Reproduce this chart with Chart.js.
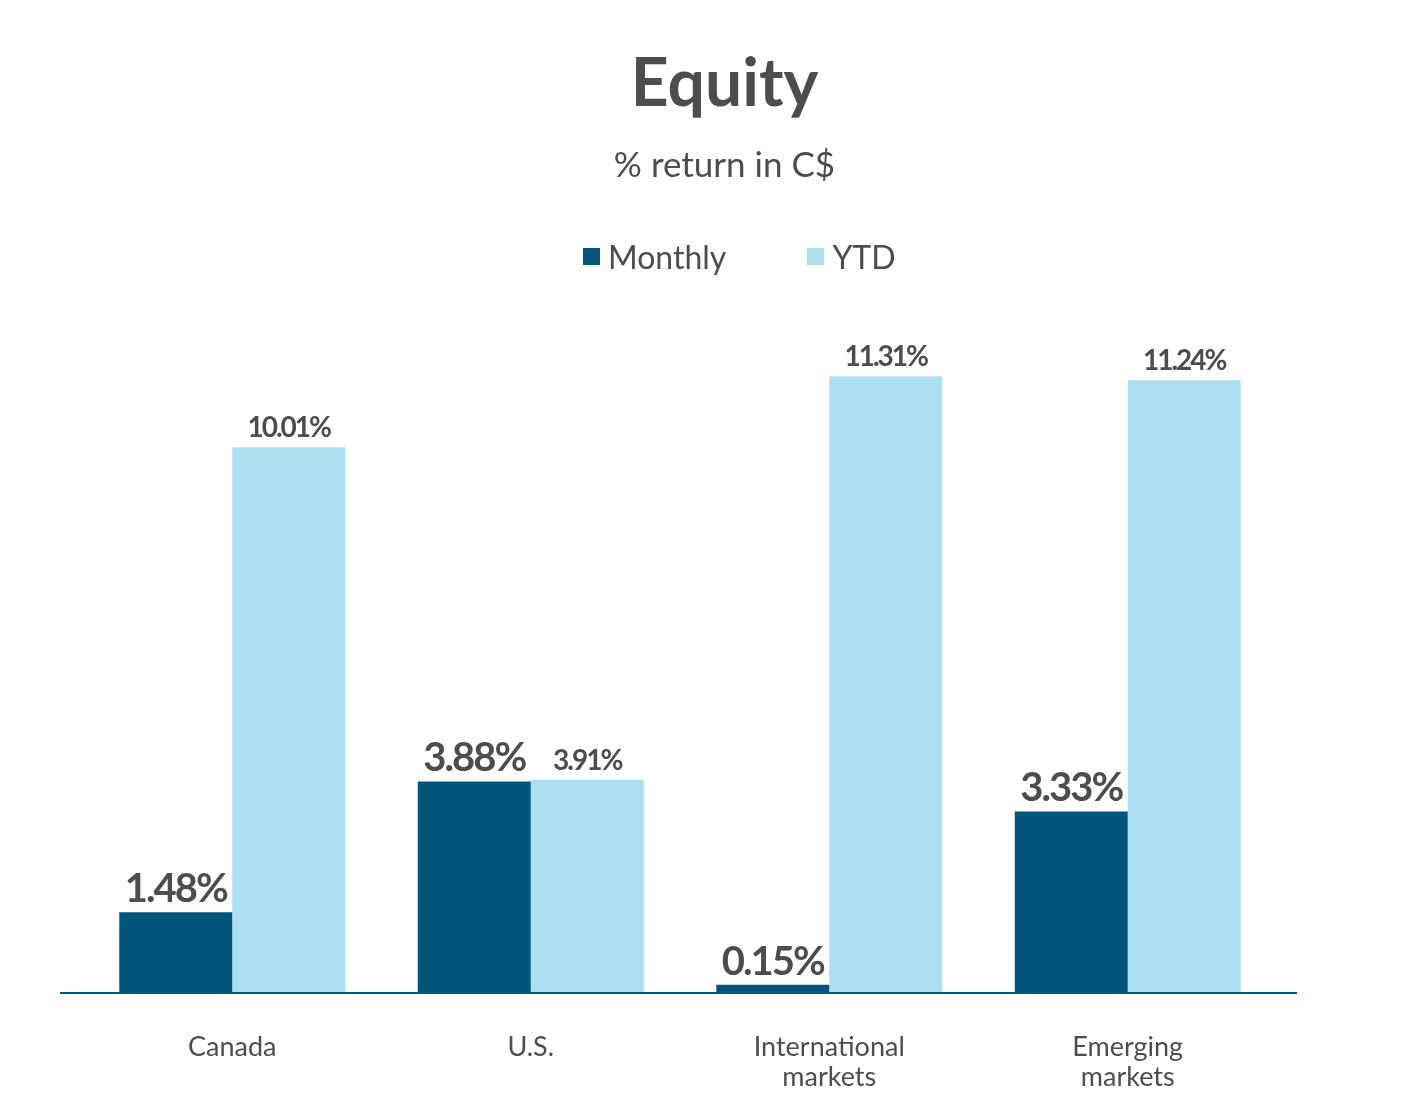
<!DOCTYPE html>
<html>
<head>
<meta charset="utf-8">
<title>Equity</title>
<script src="https://cdn.jsdelivr.net/npm/chart.js@4.4.1/dist/chart.umd.min.js"></script>
<style>
  body { margin: 0; background: #fff; }
  #wrap { position: relative; width: 1406px; height: 1120px; }
  #legend {
    position: absolute; top: 236px; left: 583px; height: 40px;
    display: flex; align-items: center;
    font-family: Lato, "Open Sans", sans-serif; font-size: 32px; color: #4d4d4a;
  }
  #legend .item { display: flex; align-items: center; margin-right: 81px; }
  #legend .box { width: 17px; height: 17px; margin-right: 8px; }
</style>
</head>
<body>
<div id="wrap">
  <canvas id="chart-equity"></canvas>
  <div id="legend"></div>
</div>
<script>
const categories = [
    ['Canada'],
    ['U.S.'],
    ['International', 'markets'],
    ['Emerging', 'markets'],
];

const monthly = [1.48, 3.88, 0.15, 3.33];
const ytd = [10.01, 3.91, 11.31, 11.24];

const textColor = '#4d4d4a';
const darkBlue = '#02567c';
const lightBlue = '#ace0f1';

// value labels above each bar
const barLabels = {
    id: 'barLabels',
    afterDatasetsDraw(chart) {
        const ctx = chart.ctx;
        ctx.save();
        ctx.fillStyle = textColor;
        ctx.textAlign = 'center';
        ctx.textBaseline = 'alphabetic';
        chart.data.datasets.forEach((ds, i) => {
            const meta = chart.getDatasetMeta(i);
            ctx.font = i === 0 ? 'bold 40px Lato' : 'bold 28px Lato';
            ctx.letterSpacing = '-2px';
            meta.data.forEach((bar, j) => {
                ctx.fillText(ds.data[j].toFixed(2) + '%', bar.x, bar.y - 10);
            });
        });
        ctx.restore();
    }
};

// baseline a bit wider than the plot area
const baseLine = {
    id: 'baseLine',
    afterDatasetsDraw(chart) {
        const ctx = chart.ctx;
        const y = chart.scales.y.getPixelForValue(0);
        ctx.save();
        ctx.strokeStyle = darkBlue;
        ctx.lineWidth = 2;
        ctx.beginPath();
        ctx.moveTo(chart.chartArea.left - 23, y);
        ctx.lineTo(chart.chartArea.right + 20, y);
        ctx.stroke();
        ctx.restore();
    }
};

const htmlLegend = {
    id: 'htmlLegend',
    afterUpdate(chart) {
        const el = document.getElementById('legend');
        el.innerHTML = '';
        chart.data.datasets.forEach(ds => {
            const item = document.createElement('div');
            item.className = 'item';
            const box = document.createElement('span');
            box.className = 'box';
            box.style.background = ds.backgroundColor;
            const txt = document.createElement('span');
            txt.textContent = ds.label;
            item.appendChild(box);
            item.appendChild(txt);
            el.appendChild(item);
        });
    }
};

const data = {
    labels: categories,
    datasets: [{
        label: 'Monthly',
        backgroundColor: darkBlue,
        data: monthly,
    }, {
        label: 'YTD',
        backgroundColor: lightBlue,
        data: ytd,
    }]
};

const config = {
    type: 'bar',
    data: data,
    options: {
        responsive: true,
        maintainAspectRatio: false,
        animation: false,
        layout: {
            padding: { left: 83, right: 40, top: 0, bottom: 0 }
        },
        datasets: {
            bar: { categoryPercentage: 0.757, barPercentage: 1 }
        },
        plugins: {
            legend: { display: false },
            tooltip: { enabled: false },
            title: {
                display: true,
                text: 'Equity',
                color: textColor,
                font: { family: 'Lato', size: 66, weight: 'bold' },
                padding: { top: 45, bottom: 20 }
            },
            subtitle: {
                display: true,
                text: '% return in C$',
                color: textColor,
                font: { family: 'Lato', size: 35 },
                padding: { top: 1, bottom: 97 }
            }
        },
        scales: {
            x: {
                grid: { display: false },
                border: { display: false },
                ticks: {
                    color: textColor,
                    padding: 31,
                    maxRotation: 0,
                    font: { family: 'Lato', size: 27, lineHeight: 1.12 }
                },
                afterFit(scale) { scale.height = 127; }
            },
            y: {
                position: 'right',
                min: 0,
                max: 13,
                grid: { display: false },
                border: { display: false },
                ticks: { display: false },
                afterFit(scale) { scale.width = 89; }
            }
        }
    },
    plugins: [barLabels, baseLine, htmlLegend]
};

const equityChart = new Chart(document.getElementById('chart-equity'), config);
</script>
</body>
</html>
